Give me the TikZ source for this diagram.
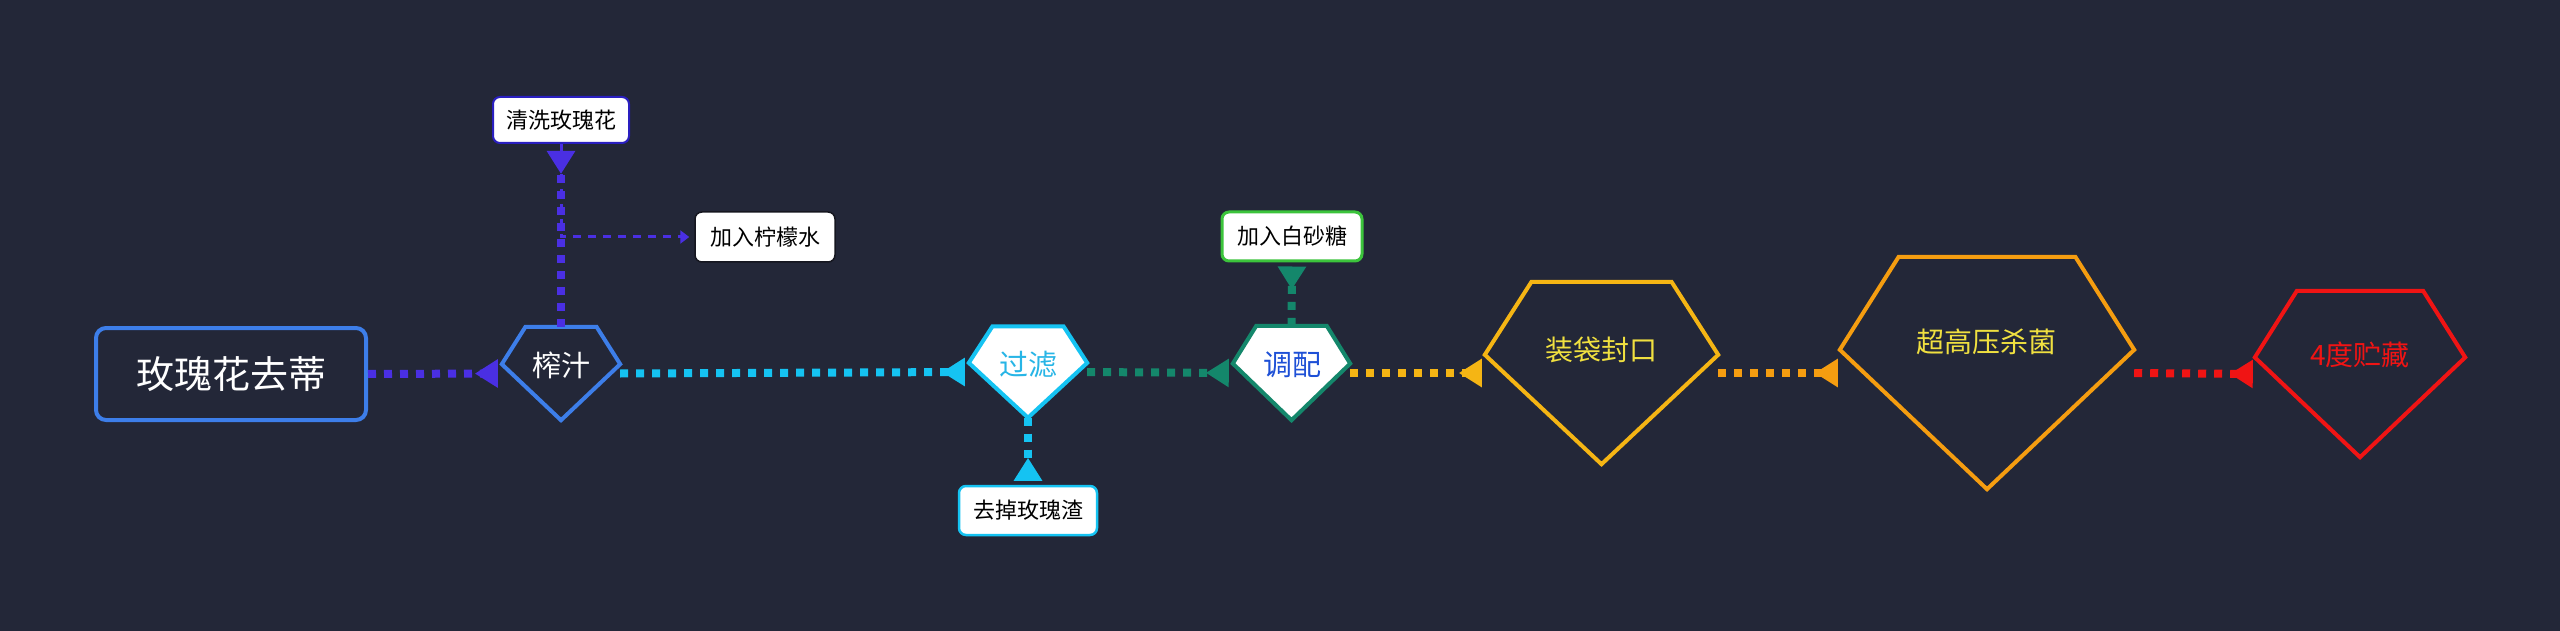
\documentclass[tikz,border=0pt]{standalone}
\usepackage{fontspec}
\setmainfont{Noto Sans CJK SC}
\usetikzlibrary{arrows.meta,calc}
\definecolor{bg}{HTML}{232738}
\definecolor{purpleL}{HTML}{4A2FE3}
\definecolor{blueB}{HTML}{3D7EE9}
\definecolor{cyanC}{HTML}{15C3F2}
\definecolor{cyanT}{HTML}{27B5E6}
\definecolor{greenG}{HTML}{14876B}
\definecolor{goldY}{HTML}{F5B514}
\definecolor{orangeO}{HTML}{F59D10}
\definecolor{redR}{HTML}{F01414}
\definecolor{textY}{HTML}{F0E040}
\definecolor{washB}{HTML}{2A1FC0}
\definecolor{sugarB}{HTML}{3CC43C}
\definecolor{blueT}{HTML}{1E50D6}
\definecolor{lemonB}{HTML}{15161F}
\tikzset{
  fs/.style={font=\fontsize{#1}{#1}\selectfont},
  flow/.style={line width=8pt, dash pattern=on 8pt off 8pt},
  backtip/.style={-{Triangle[reversed,length=23pt,width=27pt]}},
  gembox/.style={rectangle, draw=none, inner sep=0pt},
  gemline/.style={line width=4pt, line join=miter},
  smallbox/.style={rectangle, rounded corners=7pt, fill=white, text=black, inner sep=0pt, fs=22},
}
\newcommand\gemnode[7]{%
  \node[gembox, minimum width=#4pt, minimum height=#5pt] (#1) at (#2,#3) {};
  \draw[gemline, draw=#6, fill=#7]
    ($(#1.north west)!0.2!(#1.north east)$) --
    ($(#1.north west)!0.8!(#1.north east)$) --
    ($(#1.north east)!0.4!(#1.south east)$) --
    (#1.south) --
    ($(#1.north west)!0.4!(#1.south west)$) -- cycle;
}
\begin{document}
\begin{tikzpicture}[x=1pt,y=-1pt]
\fill[bg] (0,0) rectangle (2560,631);
\useasboundingbox (0,0) rectangle (2560,631);

% root
\node[rectangle, rounded corners=10pt, draw=blueB, line width=4pt, minimum width=270pt, minimum height=92pt, text=white, fs=38, inner sep=0pt] (root) at (231,374) {玫瑰花去蒂};

% gems
\gemnode{zz}{561}{373.5}{118}{93}{blueB}{bg}
\gemnode{gl}{1028}{372}{118}{91}{cyanC}{white}
\gemnode{tp}{1291.5}{373}{117}{94}{greenG}{white}
\gemnode{zd}{1601.5}{373}{233}{182}{goldY}{bg}
\gemnode{cg}{1987}{373}{294}{232}{orangeO}{bg}
\gemnode{zc}{2360}{374}{210}{166}{redR}{bg}

\node[fs=29, text=white] (zzt) at (561,365) {榨汁};
\node[fs=29, text=cyanT] (glt) at (1028,365) {过滤};
\node[fs=29, text=blueT] (tpt) at (1292,365) {调配};
\node[fs=28, text=textY] (zdt) at (1601,350) {装袋封口};
\node[fs=28, text=textY] (cgt) at (1986,342) {超高压杀菌};
\node[fs=28, text=redR] (zct) at (2360,355) {4度贮藏};

% small boxes
\node[smallbox, draw=washB, line width=2pt, minimum width=136pt, minimum height=46pt] (wash) at (561,120) {清洗玫瑰花};
\node[smallbox, draw=lemonB, line width=1.5pt, minimum width=140pt, minimum height=50pt] (lemon) at (765,237) {加入柠檬水};
\node[smallbox, draw=cyanC, line width=2.5pt, minimum width=138pt, minimum height=49pt] (zha) at (1028,510.5) {去掉玫瑰渣};
\node[smallbox, draw=sugarB, line width=3pt, minimum width=140pt, minimum height=49pt] (sugar) at (1292,236.5) {加入白砂糖};

% connectors
\draw[purpleL, line width=3pt, dash pattern=on 8pt off 7pt, -{Triangle[length=9pt,width=13pt]}, shorten >=5pt] (wash.south) |- (lemon.west);
\draw[flow, purpleL, backtip, shorten >=4pt] (root.east) -- (zz.west);
\draw[flow, purpleL, backtip, shorten >=7pt] (zz.north) -- (wash.south);
\draw[flow, cyanC, backtip, shorten >=4pt] (zz.east) -- (gl.west);
\draw[flow, cyanC, backtip, shorten >=4pt] (gl.south) -- (zha.north);
\draw[flow, greenG, backtip, shorten >=4pt] (gl.east) -- (tp.west);
\draw[flow, greenG, backtip, shorten >=4pt] (tp.north) -- (sugar.south);
\draw[flow, goldY, backtip, shorten >=3pt] (tp.east) -- (zd.west);
\draw[flow, orangeO, backtip, shorten >=2pt] (zd.east) -- (cg.west);
\draw[flow, redR, backtip, shorten >=2pt] (cg.east) -- (zc.west);
\end{tikzpicture}
\end{document}
